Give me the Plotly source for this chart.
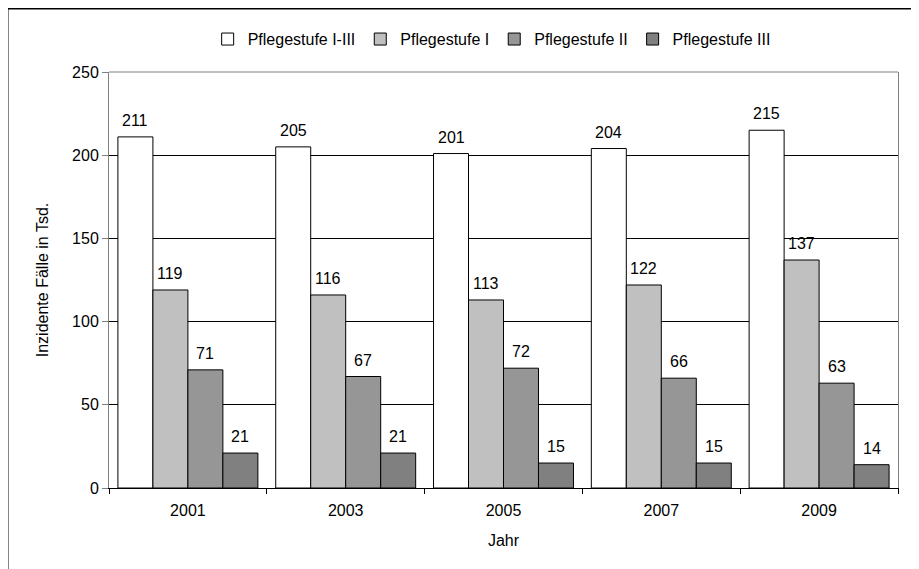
import plotly.graph_objects as go

years = ["2001", "2003", "2005", "2007", "2009"]
series_names = ["Pflegestufe I-III", "Pflegestufe I", "Pflegestufe II", "Pflegestufe III"]
stufe_all = [211, 205, 201, 204, 215]
stufe_1 = [119, 116, 113, 122, 137]
stufe_2 = [71, 67, 72, 66, 63]
stufe_3 = [21, 21, 15, 15, 14]
colors = ["#FFFFFF", "#C0C0C0", "#969696", "#808080"]
y_ticks = [0, 50, 100, 150, 200, 250]

series_values = [stufe_all, stufe_1, stufe_2, stufe_3]
FONT = "Liberation Sans, Arial, sans-serif"
FS = 16
BARGAP = 0.113

fig = go.Figure()
for name, vals, col in zip(series_names, series_values, colors):
    fig.add_trace(go.Bar(
        x=years, y=vals, name=name,
        marker=dict(color=col, line=dict(color="#000000", width=1)),
        hoverinfo="x+y+name",
    ))

# value labels above bars
n = len(series_values)
w = (1 - BARGAP) / n
annotations = []
for j, vals in enumerate(series_values):
    for i, v in enumerate(vals):
        annotations.append(dict(
            x=i + (j - (n - 1) / 2) * w, y=v, xref="x", yref="y",
            text=str(v), showarrow=False, yanchor="bottom", yshift=6,
            font=dict(family=FONT, size=FS, color="#000000"),
        ))

# plot frame (top grey) and outer border (left + top black)
shapes = [
    dict(type="line", xref="paper", yref="paper", x0=0, x1=1, y0=1, y1=1,
         line=dict(color="#808080", width=1), layer="above"),
    dict(type="line", xref="paper", yref="paper", x0=-0.1293, x1=-0.1293, y0=-0.2, y1=1.1538,
         line=dict(color="#000000", width=3), layer="above"),
    dict(type="line", xref="paper", yref="paper", x0=-0.1293, x1=1.03, y0=1.1538, y1=1.1538,
         line=dict(color="#000000", width=3), layer="above"),
]

fig.update_layout(
    width=911, height=561,
    margin=dict(l=101, r=21, t=64, b=81, autoexpand=False),
    paper_bgcolor="white", plot_bgcolor="white",
    font=dict(family=FONT, size=FS, color="#000000"),
    barmode="group", bargap=BARGAP, bargroupgap=0,
    legend=dict(orientation="h", x=0.485, xanchor="center", y=1.079, yanchor="middle",
                font=dict(family=FONT, size=FS, color="#000000"),
                itemwidth=30, bgcolor="rgba(0,0,0,0)"),
    annotations=annotations,
    shapes=shapes,
    xaxis=dict(
        type="category", showline=True, linecolor="#000000", linewidth=1,
        ticks="outside", tickson="boundaries", ticklen=5, tickcolor="#000000",
        ticklabelstandoff=8,
        showgrid=False, zeroline=False,
        tickfont=dict(family=FONT, size=FS, color="#000000"),
        title=dict(text="Jahr", font=dict(family=FONT, size=FS, color="#000000"), standoff=16),
    ),
    yaxis=dict(
        range=[0, 250], tickvals=y_ticks, showline=True, linecolor="#808080", linewidth=1,
        mirror=True,
        ticks="outside", ticklen=6, tickcolor="#808080",
        showgrid=True, gridcolor="#000000", gridwidth=1, zeroline=False,
        tickfont=dict(family=FONT, size=FS, color="#000000"),
        title=dict(text="Inzidente Fälle in Tsd.", font=dict(family=FONT, size=FS, color="#000000"),
                   standoff=19),
    ),
)

fig.write_html("out.html")
